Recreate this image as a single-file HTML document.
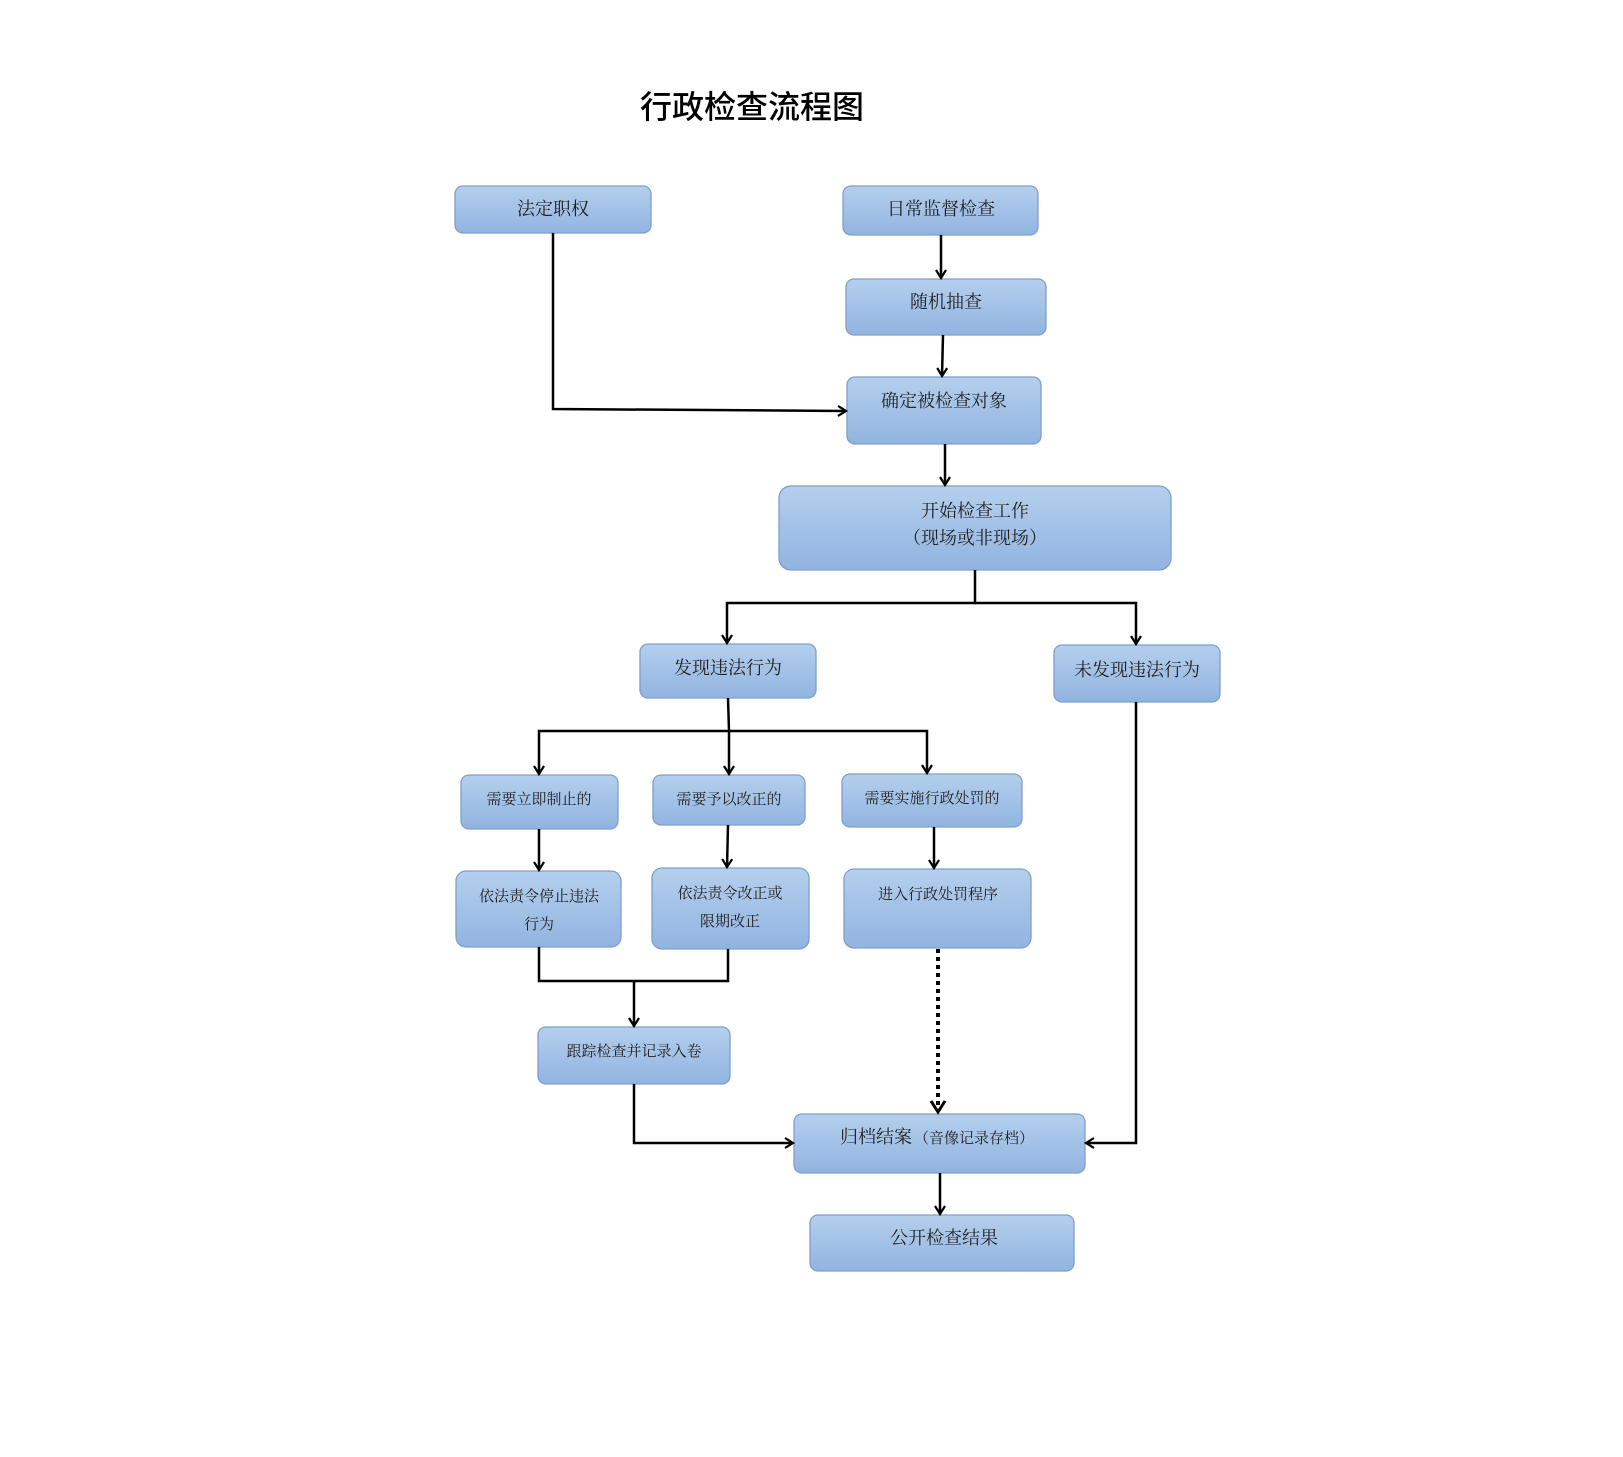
<!DOCTYPE html>
<html><head><meta charset="utf-8"><style>
html,body{margin:0;padding:0;background:#fff;}
svg{display:block;}
text{font-family:"Liberation Serif","Noto Serif CJK SC","Noto Sans CJK SC",serif;fill:#222;text-anchor:middle;}
</style></head><body>
<svg width="1623" height="1457" viewBox="0 0 1623 1457" xmlns="http://www.w3.org/2000/svg">
<defs>
<linearGradient id="g" x1="0" y1="0" x2="0" y2="1">
<stop offset="0" stop-color="#b5cfed"/><stop offset="1" stop-color="#91b4e0"/>
</linearGradient>
<marker id="a" markerWidth="14" markerHeight="14" refX="11" refY="7" orient="auto" markerUnits="userSpaceOnUse">
<polyline points="3,2 11,7 3,12" fill="none" stroke="#000" stroke-width="2.2"/>
</marker>
<marker id="b" markerWidth="18" markerHeight="18" refX="14" refY="9" orient="auto" markerUnits="userSpaceOnUse">
<polyline points="3,2 14,9 3,16" fill="none" stroke="#000" stroke-width="3"/>
</marker>
</defs>
<text x="752" y="118" font-size="32" style="font-family:'Liberation Sans','Noto Sans CJK SC',sans-serif;fill:#000;font-weight:500">行政检查流程图</text>
<g fill="url(#g)" stroke="#7e9fca" stroke-width="1.3">
<rect x="455" y="186" width="196" height="47" rx="8"/>
<rect x="843" y="186" width="195" height="49" rx="8"/>
<rect x="846" y="279" width="200" height="56" rx="8"/>
<rect x="847" y="377" width="194" height="67" rx="8"/>
<rect x="779" y="486" width="392" height="84" rx="12"/>
<rect x="640" y="644" width="176" height="54" rx="8"/>
<rect x="1054" y="645" width="166" height="57" rx="8"/>
<rect x="461" y="775" width="157" height="54" rx="8"/>
<rect x="653" y="775" width="152" height="50" rx="8"/>
<rect x="842" y="774" width="180" height="53" rx="8"/>
<rect x="456" y="871" width="165" height="76" rx="10"/>
<rect x="652" y="868" width="157" height="81" rx="10"/>
<rect x="844" y="869" width="187" height="79" rx="10"/>
<rect x="538" y="1027" width="192" height="57" rx="8"/>
<rect x="794" y="1114" width="291" height="59" rx="8"/>
<rect x="810" y="1215" width="264" height="56" rx="8"/>
</g>
<g font-size="18">
<text x="553" y="215">法定职权</text>
<text x="941" y="215">日常监督检查</text>
<text x="946" y="308">随机抽查</text>
<text x="944" y="407">确定被检查对象</text>
<text x="975" y="517">开始检查工作</text>
<text x="975" y="544">（现场或非现场）</text>
<text x="728" y="674">发现违法行为</text>
<text x="1137" y="676">未发现违法行为</text>
<text x="944" y="1244">公开检查结果</text>
<text x="876" y="1143">归档结案</text>
<text x="974" y="1143" font-size="15">（音像记录存档）</text>
</g>
<g font-size="15">
<text x="539" y="804">需要立即制止的</text>
<text x="729" y="804">需要予以改正的</text>
<text x="932" y="803">需要实施行政处罚的</text>
<text x="539" y="901">依法责令停止违法</text>
<text x="539" y="929">行为</text>
<text x="730" y="898">依法责令改正或</text>
<text x="730" y="926">限期改正</text>
<text x="938" y="899">进入行政处罚程序</text>
<text x="634" y="1056">跟踪检查并记录入卷</text>
</g>
<g fill="none" stroke="#000" stroke-width="2.5">
<polyline points="553,233 553,409 846,411" marker-end="url(#a)"/>
<line x1="941" y1="235" x2="941" y2="278" marker-end="url(#a)"/>
<line x1="943" y1="335" x2="942" y2="376" marker-end="url(#a)"/>
<line x1="945" y1="444" x2="945" y2="485" marker-end="url(#a)"/>
<polyline points="975,570 975,603 727,603 727,643" marker-end="url(#a)"/>
<polyline points="975,603 1136,603 1136,644" marker-end="url(#a)"/>
<polyline points="728,698 729,731 729,774" marker-end="url(#a)"/>
<polyline points="729,731 539,731 539,774" marker-end="url(#a)"/>
<polyline points="729,731 927,731 927,773" marker-end="url(#a)"/>
<line x1="539" y1="829" x2="539" y2="870" marker-end="url(#a)"/>
<line x1="728" y1="825" x2="727" y2="867" marker-end="url(#a)"/>
<line x1="934" y1="827" x2="934" y2="868" marker-end="url(#a)"/>
<polyline points="539,947 539,981 728,981 728,949"/>
<line x1="634" y1="981" x2="634" y2="1026" marker-end="url(#a)"/>
<polyline points="634,1084 634,1143 793,1143" marker-end="url(#a)"/>
<polyline points="1136,702 1136,1143 1086,1143" marker-end="url(#a)"/>
<line x1="940" y1="1173" x2="940" y2="1214" marker-end="url(#a)"/>
<line x1="938" y1="949" x2="938" y2="1112" stroke-width="4" stroke-dasharray="4,4" marker-end="url(#b)"/>
</g>
</svg>
</body></html>
